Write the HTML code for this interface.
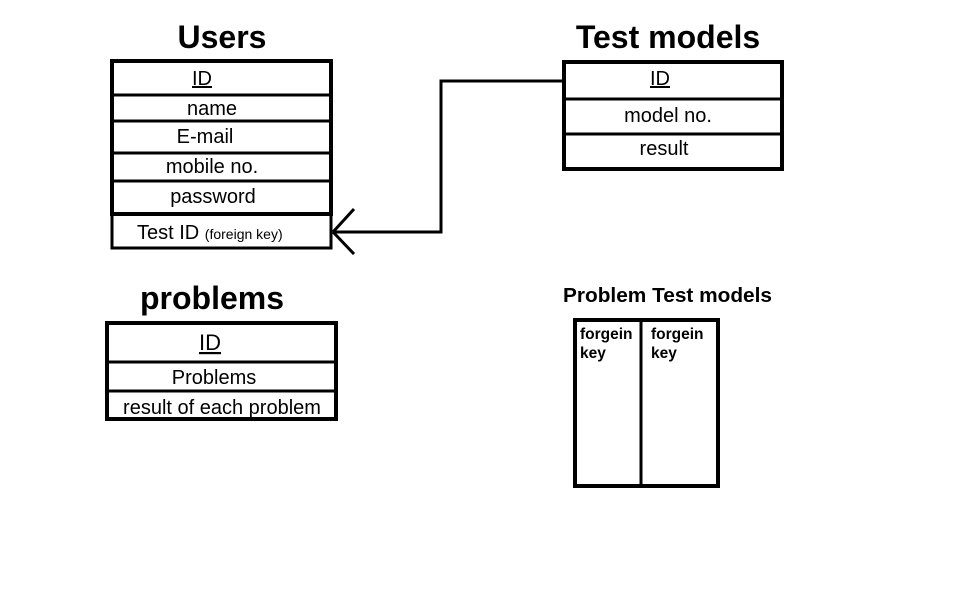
<!DOCTYPE html>
<html><head><style>
html,body{margin:0;padding:0;background:#fff;}
svg{display:block;font-family:"Liberation Sans",Arial,sans-serif;}
</style></head><body>
<svg width="960" height="590" viewBox="0 0 960 590">
<rect width="960" height="590" fill="#fff"/>
<g font-weight="bold" font-size="32" text-anchor="middle">
<text x="222" y="48">Users</text>
<text x="668" y="48">Test models</text>
<text x="212" y="309">problems</text>
</g>
<text x="563" y="302" font-weight="bold" font-size="20" textLength="209" lengthAdjust="spacingAndGlyphs">Problem Test models</text>

<g fill="none" stroke="#000">
<rect x="112" y="61" width="219" height="153" stroke-width="4"/>
<line x1="112" y1="95" x2="331" y2="95" stroke-width="3"/>
<line x1="112" y1="121" x2="331" y2="121" stroke-width="3"/>
<line x1="112" y1="153" x2="331" y2="153" stroke-width="3"/>
<line x1="112" y1="181" x2="331" y2="181" stroke-width="3"/>
<rect x="112" y="214" width="219" height="34" stroke-width="3"/>
<polyline points="333,232 441,232 441,81 562,81" stroke-width="3"/>
<line x1="333" y1="232" x2="354" y2="209" stroke-width="3"/>
<line x1="333" y1="232" x2="354" y2="254" stroke-width="3"/>
<rect x="564" y="62" width="218" height="107" stroke-width="4"/>
<line x1="564" y1="99" x2="782" y2="99" stroke-width="3"/>
<line x1="564" y1="134" x2="782" y2="134" stroke-width="3"/>
<rect x="107" y="323" width="229" height="96" stroke-width="4"/>
<line x1="107" y1="362" x2="336" y2="362" stroke-width="3"/>
<line x1="107" y1="391" x2="336" y2="391" stroke-width="3"/>
<rect x="575" y="320" width="143" height="166" stroke-width="4"/>
<line x1="641" y1="320" x2="641" y2="486" stroke-width="3"/>
</g>
<g font-size="20" text-anchor="middle">
<text x="202" y="85" text-decoration="underline">ID</text>
<text x="212" y="115">name</text>
<text x="205" y="143">E-mail</text>
<text x="212" y="173">mobile no.</text>
<text x="213" y="203">password</text>
<text x="660" y="85" text-decoration="underline">ID</text>
<text x="668" y="122">model no.</text>
<text x="664" y="155">result</text>
<text x="210" y="350" font-size="22" text-decoration="underline">ID</text>
<text x="214" y="384">Problems</text>
<text x="222" y="414">result of each problem</text>
</g>
<text x="137" y="239" font-size="20">Test ID <tspan font-size="14">(foreign key)</tspan></text>
<g font-size="15.5" font-weight="bold">
<text x="580" y="339">forgein</text>
<text x="580" y="358">key</text>
<text x="651" y="339">forgein</text>
<text x="651" y="358">key</text>
</g>
</svg>
</body></html>
